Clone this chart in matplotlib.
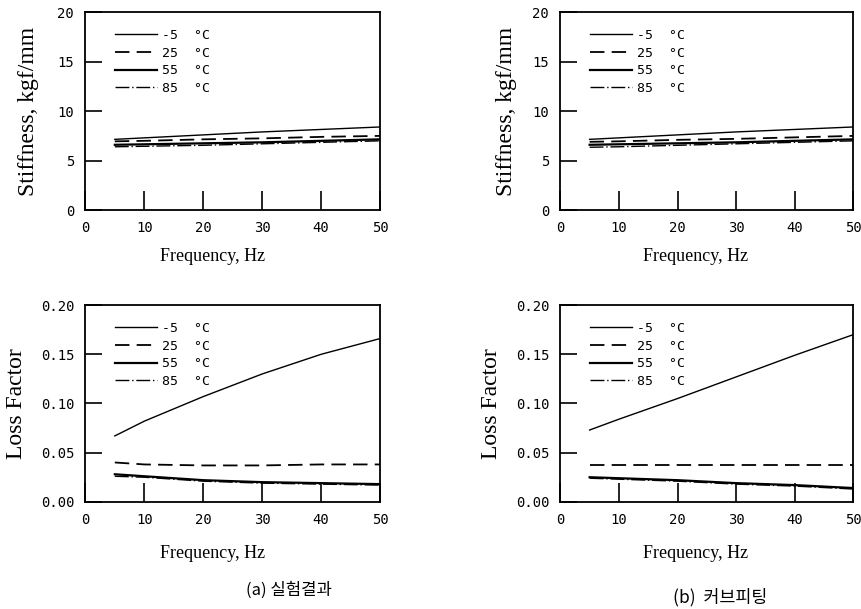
import matplotlib
matplotlib.use("Agg")
import matplotlib.pyplot as plt

# ------------------------------------------------------------
# data
# ------------------------------------------------------------
freq = [5, 10, 20, 30, 40, 50]
temp_labels = ["-5  °C", "25  °C", "55  °C", "85  °C"]

# (a) measured
stiff_a_m5 = [7.15, 7.3, 7.6, 7.9, 8.15, 8.4]
stiff_a_25 = [6.95, 7.0, 7.15, 7.25, 7.4, 7.5]
stiff_a_55 = [6.6, 6.65, 6.75, 6.85, 7.0, 7.15]
stiff_a_85 = [6.4, 6.45, 6.55, 6.7, 6.85, 7.0]

loss_a_m5 = [0.067, 0.082, 0.107, 0.130, 0.150, 0.166]
loss_a_25 = [0.040, 0.038, 0.037, 0.037, 0.038, 0.038]
loss_a_55 = [0.028, 0.026, 0.022, 0.020, 0.019, 0.018]
loss_a_85 = [0.026, 0.025, 0.021, 0.019, 0.018, 0.017]

# (b) curve fitting
stiff_b_m5 = [7.15, 7.3, 7.6, 7.9, 8.15, 8.4]
stiff_b_25 = [6.9, 6.95, 7.1, 7.2, 7.35, 7.5]
stiff_b_55 = [6.6, 6.65, 6.75, 6.85, 7.0, 7.15]
stiff_b_85 = [6.35, 6.4, 6.55, 6.7, 6.85, 7.0]

loss_b_m5 = [0.073, 0.084, 0.105, 0.127, 0.149, 0.170]
loss_b_25 = [0.037, 0.037, 0.037, 0.037, 0.037, 0.037]
loss_b_55 = [0.025, 0.024, 0.022, 0.019, 0.017, 0.014]
loss_b_85 = [0.024, 0.023, 0.021, 0.018, 0.016, 0.013]

captions = ["(a) 실험결과", "(b)  커브피팅"]

styles = [
    dict(ls="-", lw=1.0),
    dict(ls=(0, (8, 4)), lw=1.3),
    dict(ls="-", lw=1.6),
    dict(ls=(0, (10, 2, 1, 2)), lw=1.0),
]

TICK_FONT = "DejaVu Sans Mono"
LABEL_FONT = "Liberation Serif"


def draw_panel(ax, series, ylim, yticks, ylabel, yfmt, ylab_x, xlab_x, xlab_y):
    for y, lab, st in zip(series, temp_labels, styles):
        ax.plot(freq, y, color="black", label=lab, **st)
    ax.set_xlim(0, 50)
    ax.set_ylim(*ylim)
    ax.set_xticks([0, 10, 20, 30, 40, 50])
    ax.set_yticks(yticks)
    ax.set_yticklabels([yfmt.format(v) for v in yticks], family=TICK_FONT, fontsize=10)
    ax.set_xticklabels(["0", "10", "20", "30", "40", "50"], family=TICK_FONT, fontsize=10)
    ax.tick_params(axis="x", direction="in", length=14, width=1.2, pad=8)
    ax.tick_params(axis="y", direction="in", length=12, width=1.2, pad=8)
    for s in ax.spines.values():
        s.set_linewidth(1.3)
    ax.set_xlabel("Frequency, Hz", family=LABEL_FONT, fontsize=13)
    ax.xaxis.set_label_coords(xlab_x, xlab_y)
    ax.set_ylabel(ylabel, family=LABEL_FONT, fontsize=17, va="center")
    ax.yaxis.set_label_coords(ylab_x, 0.5)
    ax.legend(loc="upper left", bbox_to_anchor=(0.06, 0.975), frameon=False,
              handlelength=3.2, handletextpad=0.4, labelspacing=0.35,
              prop={"family": TICK_FONT, "size": 9.5})


fig = plt.figure(figsize=(8.62, 6.09), dpi=100)

ax_tl = fig.add_axes([0.099, 0.655, 0.342, 0.325])
ax_tr = fig.add_axes([0.650, 0.655, 0.340, 0.325])
ax_bl = fig.add_axes([0.099, 0.176, 0.342, 0.323])
ax_br = fig.add_axes([0.650, 0.176, 0.340, 0.323])

draw_panel(ax_tl, [stiff_a_m5, stiff_a_25, stiff_a_55, stiff_a_85],
           (0, 20), [0, 5, 10, 15, 20], "Stiffness, kgf/mm", "{:g}", -0.193, 0.43, -0.19)
draw_panel(ax_tr, [stiff_b_m5, stiff_b_25, stiff_b_55, stiff_b_85],
           (0, 20), [0, 5, 10, 15, 20], "Stiffness, kgf/mm", "{:g}", -0.184, 0.46, -0.19)
draw_panel(ax_bl, [loss_a_m5, loss_a_25, loss_a_55, loss_a_85],
           (0, 0.2), [0, 0.05, 0.10, 0.15, 0.20], "Loss Factor", "{:.2f}", -0.234, 0.43, -0.22)
draw_panel(ax_br, [loss_b_m5, loss_b_25, loss_b_55, loss_b_85],
           (0, 0.2), [0, 0.05, 0.10, 0.15, 0.20], "Loss Factor", "{:.2f}", -0.235, 0.46, -0.22)

fig.text(0.335, 0.031, captions[0], ha="center", va="center",
         family=["Noto Sans CJK KR", "DejaVu Sans"], fontsize=12)
fig.text(0.835, 0.02, captions[1], ha="center", va="center",
         family=["Noto Sans CJK KR", "DejaVu Sans"], fontsize=12.5)

fig.savefig("out.png", dpi=100)
